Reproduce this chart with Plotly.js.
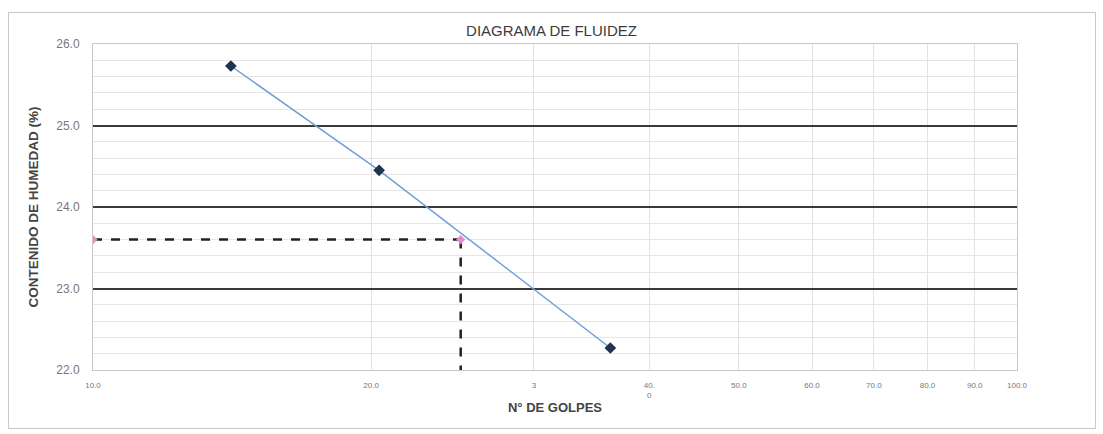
<!DOCTYPE html>
<html>
<head>
<meta charset="utf-8">
<script src="https://cdn.plot.ly/plotly-3.0.1.min.js"></script>
<style>
  html, body { margin: 0; padding: 0; background: #fff; }
  #wrap { position: relative; width: 1103px; height: 434px; }
  #chart { position: absolute; left: 0; top: 0; width: 1103px; height: 434px; }
  #frame { position: absolute; left: 8px; top: 12px; width: 1086px; height: 415px;
           border: 1px solid #c8c8c8; pointer-events: none; }
</style>
</head>
<body>
<div id="wrap">
  <div id="chart"></div>
  <div id="frame"></div>
</div>
<script>
// ---- data ----
const golpes = [14.1, 20.4, 36.3];          // N° de golpes
const humedad = [25.73, 24.45, 22.27];      // contenido de humedad (%)
const golpesLL = 25;                        // 25 golpes
const humedadLL = 23.6;                     // humedad a 25 golpes
const xRange = [10, 100];
const yRange = [22, 26];
const xTickVals = [10, 20, 30, 40, 50, 60, 70, 80, 90, 100];
const xTickText = ["10.0", "20.0", "3", "40.<br>0", "50.0", "60.0", "70.0", "80.0", "90.0", "100.0"];
const yTickVals = [22, 23, 24, 25, 26];
const yTickText = ["22.0", "23.0", "24.0", "25.0", "26.0"];

const traces = [
  { // horizontal dashed guide
    x: [xRange[0], golpesLL], y: [humedadLL, humedadLL],
    mode: 'lines', line: { color: '#222', width: 2.5, dash: 'dash' },
    hoverinfo: 'skip', showlegend: false
  },
  { // vertical dashed guide
    x: [golpesLL, golpesLL], y: [humedadLL, yRange[0]],
    mode: 'lines', line: { color: '#222', width: 2.5, dash: 'dash' },
    hoverinfo: 'skip', showlegend: false
  },
  { // pink points
    x: [xRange[0], golpesLL], y: [humedadLL, humedadLL],
    mode: 'markers', marker: { color: '#e58ad0', size: 7, symbol: 'diamond' },
    showlegend: false
  },
  { // flow curve
    x: golpes, y: humedad,
    mode: 'lines+markers',
    line: { color: '#6f9fd8', width: 1.5 },
    marker: { color: '#1f3350', size: 9, symbol: 'diamond' },
    showlegend: false
  }
];

const layout = {
  width: 1103, height: 434,
  margin: { l: 93, r: 86, t: 44, b: 64 },
  paper_bgcolor: '#fff', plot_bgcolor: '#fff',
  font: { family: 'Liberation Sans, Arial, sans-serif', color: '#555' },
  title: {
    text: 'DIAGRAMA DE FLUIDEZ',
    font: { size: 15, color: '#3c3c3c' },
    x: 0.5, xanchor: 'center', y: 0.93, yanchor: 'middle'
  },
  xaxis: {
    type: 'log',
    range: [Math.log10(xRange[0]), Math.log10(xRange[1])],
    tickmode: 'array', tickvals: xTickVals, ticktext: xTickText,
    tickfont: { size: 8, color: '#777' },
    ticklabelstandoff: 7,
    showgrid: true, gridcolor: '#e2e2e2', gridwidth: 1,
    showline: true, linecolor: '#c8c8c8', linewidth: 1, mirror: true,
    ticks: '', ticklen: 0,
    zeroline: false, automargin: false,
    title: { text: '<b>N° DE GOLPES</b>', font: { size: 13, color: '#444' }, standoff: 3 }
  },
  yaxis: {
    range: yRange,
    tickmode: 'array', tickvals: yTickVals, ticktext: yTickText,
    tickfont: { size: 12, color: '#777' },
    ticklabelstandoff: 10,
    showgrid: true, gridcolor: '#3a3a3a', gridwidth: 2,
    minor: { dtick: 0.2, showgrid: true, gridcolor: '#e6e6e6', gridwidth: 1 },
    showline: true, linecolor: '#c8c8c8', linewidth: 1, mirror: true,
    ticks: '', zeroline: false, automargin: false,
    title: { text: '<b>CONTENIDO DE HUMEDAD (%)</b>', font: { size: 13.5, color: '#444' }, standoff: 14 }
  }
};

Plotly.newPlot('chart', traces, layout, { staticPlot: true, displayModeBar: false });
</script>
</body>
</html>
